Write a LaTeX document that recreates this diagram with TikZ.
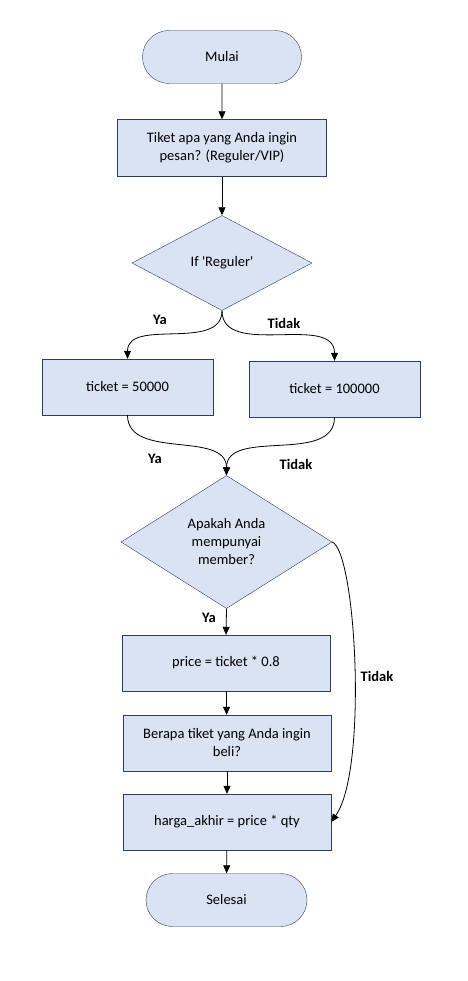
\documentclass[tikz,border=0pt]{standalone}
\usepackage{fontspec}
\setmainfont{Carlito}
\usetikzlibrary{shapes.geometric,shapes.misc,arrows.meta}

\definecolor{isiBiru}{RGB}{218,227,243}
\definecolor{garisBiru}{RGB}{47,62,94}

\tikzset{
  kotak/.style={draw=garisBiru,fill=isiBiru,rectangle,align=center,
    minimum width=209pt,minimum height=57pt,inner sep=0pt},
  ujung/.style={draw=garisBiru,fill=isiBiru,rounded rectangle,align=center,
    minimum width=159pt,minimum height=53pt,inner sep=0pt},
  pilihan/.style={draw=garisBiru,fill=isiBiru,diamond,align=center,inner sep=0pt},
  panah/.style={-{Triangle[width=7pt,length=8pt]},line width=0.8pt},
  ket/.style={font=\fontsize{14.5}{18}\selectfont\bfseries}
}

\begin{document}
\begin{tikzpicture}[x=1pt,y=-1pt,font=\fontsize{14.5}{18}\selectfont]
            \useasboundingbox (0,0) rectangle (467,981);

            \node[ujung] (mulai) at (222,57) {Mulai};
            \node[kotak] (tanya) at (222,148) {Tiket apa yang Anda ingin\\pesan? (Reguler/VIP)};
            \node[pilihan,minimum width=180pt,minimum height=95pt] (cek) at (222,263) {If \textquotesingle Reguler\textquotesingle};

            \node[kotak,minimum width=171pt,minimum height=56pt] (reg) at (127.5,387) {ticket = 50000};
            \node[kotak,minimum width=171pt,minimum height=56pt] (vip) at (334.5,389) {ticket = 100000};

            \node[pilihan,minimum width=211pt,minimum height=133pt] (member) at (226.5,542) {Apakah Anda\\mempunyai\\member?};
            \node[kotak,minimum width=208pt,minimum height=56pt] (diskon) at (226,663) {price = ticket * 0.8};
            \node[kotak,minimum width=208pt,minimum height=56pt] (jumlah) at (227,743) {Berapa tiket yang Anda ingin\\beli?};
            \node[kotak,minimum width=208pt,minimum height=56pt] (hasil) at (227,822) {harga\_akhir = price * qty};
            \node[ujung,minimum width=161pt] (selesai) at (226.5,900) {Selesai};

            \node[ket] (ya1) at (160,320) {Ya};
            \node[ket] (tidak1) at (284,323) {Tidak};
            \node[ket] (ya2) at (155,459) {Ya};
            \node[ket] (tidak2) at (296,464) {Tidak};
            \node[ket] (ya3) at (209,618) {Ya};
            \node[ket] (tidak3) at (377,676) {Tidak};

            \draw[panah] (mulai) -- (tanya);
            \draw[panah] (tanya) -- (cek);
            \draw[panah] (cek.south) to[out=-90,in=90] (reg.north);
            \draw[panah] (cek.south) to[out=-90,in=90] (vip.north);
            \draw[panah] (reg.south) to[out=-90,in=90] (member.north);
            \draw[panah] (vip.south) to[out=-90,in=90] (member.north);
            \draw[panah] (member.south) -- (diskon.north);
            \draw[panah] (diskon) -- (jumlah);
            \draw[panah] (jumlah) -- (hasil);
            \draw[panah] (hasil) -- (selesai);
            \draw[panah] (member.east) .. controls (356,552) and (368,770) .. (hasil.east);
        \end{tikzpicture}
\end{document}
